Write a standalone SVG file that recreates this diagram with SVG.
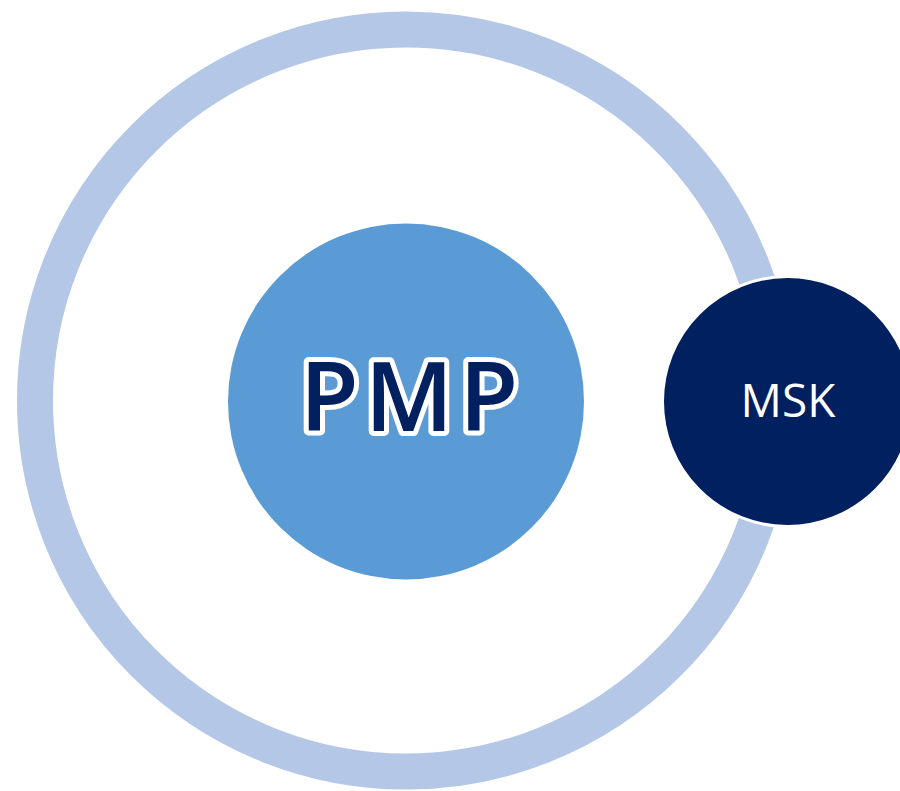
<svg xmlns="http://www.w3.org/2000/svg" width="900" height="791" viewBox="0 0 900 791">
<style>
.lbl{font-family:"Open Sans","Noto Sans",sans-serif;text-anchor:middle;dominant-baseline:alphabetic}
</style>
<rect width="900" height="791" fill="#FFFFFF"/>
<g id="ring">
<circle cx="406" cy="400.5" r="371" fill="none" stroke="#B4C7E7" stroke-width="36"/>
</g>
<g id="pmp">
<circle cx="406" cy="401.5" r="178" fill="#5B9BD5"/>
<text class="lbl" x="412" y="431" font-size="96" font-weight="600" letter-spacing="6" fill="#002060" stroke="#FFFFFF" stroke-width="10" stroke-linejoin="round" paint-order="stroke">PMP</text>
</g>
<g id="msk">
<circle cx="787.5" cy="401.5" r="125" fill="#002060" stroke="#FFFFFF" stroke-width="3"/>
<text class="lbl" x="788" y="417" font-size="46" fill="#FFFFFF">MSK</text>
</g>
<g id="connectors"/>
</svg>
